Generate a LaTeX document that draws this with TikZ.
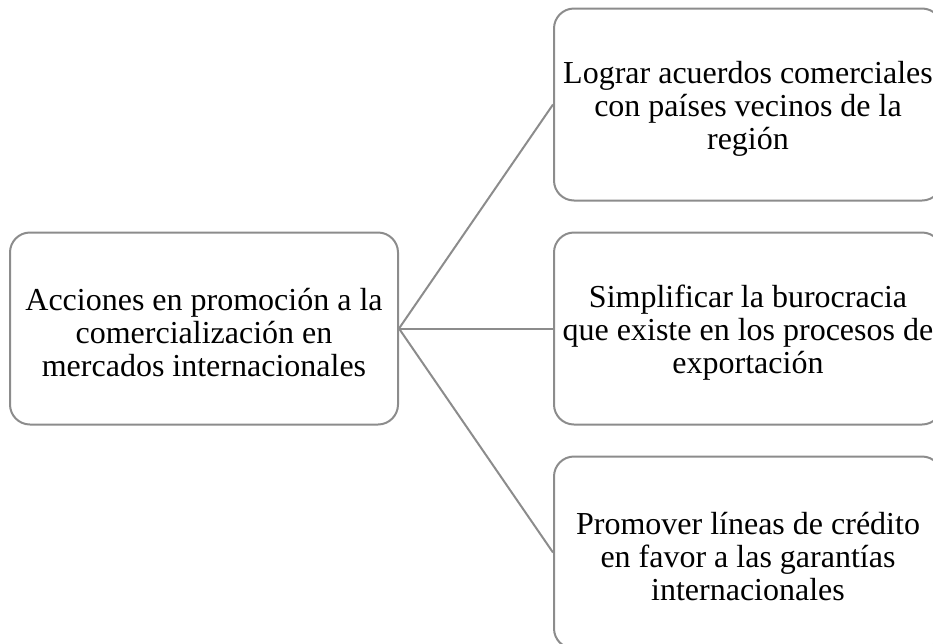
\documentclass[tikz,border=0pt]{standalone}
\usepackage{fontspec}
\setmainfont{Liberation Serif}
\usepackage{xcolor}
\usetikzlibrary{positioning}
\definecolor{boxgray}{RGB}{140,140,140}
\newcommand{\topgap}{\rule{0pt}{31pt}}

\begin{document}
\begin{tikzpicture}[x=1pt,y=-1pt,
    item/.style={draw=boxgray, line width=2pt, rounded corners=20pt,
        minimum width=388pt, minimum height=192pt, align=center,
        font=\fontsize{32}{33}\selectfont, inner sep=0pt},
    link/.style={draw=boxgray, line width=2pt}]
    \useasboundingbox (0,0) rectangle (933,643);
    \clip (0,0) rectangle (933,643);
    \node[item] (acciones) at (204,328.5) {\topgap Acciones en promoción a la\\comercialización en\\mercados internacionales};
    \node[item, right=154pt of acciones] (simplificar) {\topgap Simplificar la burocracia\\que existe en los procesos de\\exportación};
    \node[item, above=30pt of simplificar] (lograr) {\topgap Lograr acuerdos comerciales\\con países vecinos de la\\región};
    \node[item, below=30pt of simplificar] (promover) {\topgap Promover líneas de crédito\\en favor a las garantías\\internacionales};
    \draw[link] (acciones.east) -- (lograr.west);
    \draw[link] (acciones.east) -- (simplificar.west);
    \draw[link] (acciones.east) -- (promover.west);
\end{tikzpicture}
\end{document}
